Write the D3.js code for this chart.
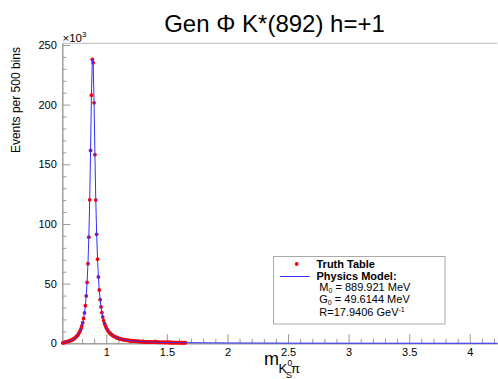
<!DOCTYPE html>
<html>
<head>
<meta charset="utf-8">
<script src="https://cdn.jsdelivr.net/npm/d3@7"></script>
<style>
  html, body { margin: 0; padding: 0; background: #fff; }
  svg { display: block; font-family: "Liberation Sans", Arial, Helvetica, sans-serif; }
</style>
</head>
<body>
<svg id="chart" width="498" height="379"></svg>
<script>
// Histogram binning of the K_S pi invariant mass (GeV): 500 bins
const binLo = 0.637;
const binWidth = 0.00718;
const binCount = 500;

// Truth table contents, events per bin in units of 10^3 (first 142 bins)
const truthValues = [
  0.30, 0.55, 0.75, 0.95, 1.15, 1.35, 1.58, 1.82, 2.08, 2.37,
  2.70, 3.07, 3.48, 3.95, 4.50, 5.13, 5.86, 6.72, 7.75, 8.96,
  10.43, 12.24, 14.48, 17.27, 20.84, 25.45, 31.54, 39.72, 51.0, 66.7,
  88.9, 120.2, 161.6, 207.9, 238.0, 235.1, 201.5, 158.0, 120.0, 91.3,
  70.5, 55.56, 44.67, 36.58, 30.47, 25.75, 22.04, 19.08, 16.68, 14.72,
  13.08, 11.72, 10.56, 9.57, 8.71, 7.97, 7.33, 6.76, 6.26, 5.82,
  5.42, 5.06, 4.74, 4.46, 4.20, 3.96, 3.74, 3.54, 3.36, 3.19,
  3.04, 2.90, 2.77, 2.64, 2.53, 2.43, 2.33, 2.23, 2.15, 2.07,
  1.99, 1.92, 1.85, 1.79, 1.73, 1.67, 1.62, 1.57, 1.52, 1.47,
  1.43, 1.39, 1.35, 1.31, 1.28, 1.24, 1.21, 1.18, 1.15, 1.12,
  1.09, 1.065, 1.04, 1.016, 0.992, 0.970, 0.948, 0.928, 0.908, 0.888,
  0.870, 0.852, 0.835, 0.818, 0.802, 0.787, 0.771, 0.757, 0.743, 0.729,
  0.716, 0.703, 0.691, 0.679, 0.667, 0.656, 0.645, 0.634, 0.624, 0.614,
  0.604, 0.595, 0.585, 0.576, 0.568, 0.559, 0.551, 0.543, 0.535, 0.527,
  0.520, 0.512
];

// Physics model beyond the truth-table range: [mass GeV, events x10^3]
const modelTail = [
  [1.70, 0.48], [2.00, 0.30], [2.50, 0.15], [3.00, 0.09], [3.50, 0.06], [4.227, 0.04]
];

// Axis ticks
const xMajorTicks = [1, 1.5, 2, 2.5, 3, 3.5, 4];
const xMinorTicks = [0.7, 0.8, 0.9, 1.1, 1.2, 1.3, 1.4, 1.6, 1.7, 1.8, 1.9, 2.1, 2.2, 2.3, 2.4,
                     2.6, 2.7, 2.8, 2.9, 3.1, 3.2, 3.3, 3.4, 3.6, 3.7, 3.8, 3.9, 4.1, 4.2];
const yMajorTicks = [0, 50, 100, 150, 200, 250];
const yMinorTicks = [10, 20, 30, 40, 60, 70, 80, 90, 110, 120, 130, 140, 160, 170, 180, 190,
                     210, 220, 230, 240];

// Legend fit results
const fitMass = "889.921";
const fitWidth = "49.6144";
const fitRadius = "17.9406";

const svg = d3.select("#chart");
const frame = { left: 62.3, right: 497.3, top: 43.3, bottom: 343.3 };

const x = d3.scaleLinear()
  .domain([binLo, binLo + binCount * binWidth])
  .range([frame.left, frame.right]);
const y = d3.scaleLinear()
  .domain([0, 251.4])
  .range([frame.bottom, frame.top]);

const truth = truthValues.map((v, i) => ({ m: binLo + (i + 0.5) * binWidth, v }));
const model = truth.concat(modelTail.map(d => ({ m: d[0], v: d[1] })));

// Frame top border
svg.append("line")
  .attr("x1", frame.left).attr("x2", frame.right)
  .attr("y1", frame.top).attr("y2", frame.top)
  .attr("stroke", "#bbb").attr("stroke-width", 1);

const axisColor = "#999";
function styleAxis(g) {
  g.selectAll("path.domain").attr("stroke", axisColor);
  g.selectAll(".tick line").attr("stroke", axisColor);
  g.selectAll(".tick text").attr("fill", "#000").attr("font-size", "11px")
    .attr("font-family", "'Liberation Sans', Arial, Helvetica, sans-serif");
}

// X axis: minor ticks then major ticks with labels
svg.append("g")
  .attr("transform", `translate(0,${frame.bottom})`)
  .call(d3.axisBottom(x).tickValues(xMinorTicks).tickFormat("").tickSizeInner(-4.5).tickSizeOuter(0))
  .call(styleAxis);
svg.append("g")
  .attr("transform", `translate(0,${frame.bottom})`)
  .call(d3.axisBottom(x).tickValues(xMajorTicks).tickFormat(d3.format("~g"))
    .tickSizeInner(-9).tickSizeOuter(0).tickPadding(4.8))
  .call(styleAxis);

// Y axis
svg.append("g")
  .attr("transform", `translate(${frame.left},0)`)
  .call(d3.axisLeft(y).tickValues(yMinorTicks).tickFormat("").tickSizeInner(-4).tickSizeOuter(0))
  .call(styleAxis);
svg.append("g")
  .attr("transform", `translate(${frame.left},0)`)
  .call(d3.axisLeft(y).tickValues(yMajorTicks).tickFormat(d3.format("d"))
    .tickSizeInner(-8).tickSizeOuter(0).tickPadding(5.5))
  .call(styleAxis);

// Exponent label above the y axis
const expo = svg.append("text").attr("x", 62.5).attr("y", 41.5)
  .attr("font-size", "11.5px").attr("fill", "#000");
expo.append("tspan").text("\u00d710");
expo.append("tspan").attr("font-size", "8px").attr("dy", -4.5).text("3");

// Truth table markers
svg.append("g").selectAll("circle")
  .data(truth)
  .join("circle")
  .attr("cx", d => x(d.m))
  .attr("cy", d => y(d.v))
  .attr("r", 1.9)
  .attr("fill", "#ff0000");

// Physics model curve
svg.append("path")
  .datum(model)
  .attr("fill", "none")
  .attr("stroke", "#3030ff")
  .attr("stroke-width", 1)
  .attr("d", d3.line().x(d => x(d.m)).y(d => y(d.v)));

// Title
svg.append("text")
  .attr("x", 274.5).attr("y", 31.5)
  .attr("text-anchor", "middle")
  .attr("font-size", "24px").attr("fill", "#000")
  .text("Gen \u03a6 K*(892) h=+1");

// Y axis title
svg.append("text")
  .attr("transform", "translate(19.5,47) rotate(-90)")
  .attr("text-anchor", "end")
  .attr("font-size", "12px").attr("fill", "#000")
  .text("Events per 500 bins");

// X axis title: m_{K^0_S pi}
const xt = svg.append("g").attr("fill", "#000");
xt.append("text").attr("x", 264).attr("y", 365.3).attr("font-size", "18px").text("m");
xt.append("text").attr("x", 278.6).attr("y", 372.7).attr("font-size", "13px").text("K");
xt.append("text").attr("x", 287.4).attr("y", 366.3).attr("font-size", "8.5px").text("0");
xt.append("text").attr("x", 286.0).attr("y", 378.3).attr("font-size", "9px").text("S");
xt.append("text").attr("x", 291.0).attr("y", 372.7).attr("font-size", "13px").text("\u03c0");

// Legend
const lg = svg.append("g");
lg.append("rect")
  .attr("x", 273.5).attr("y", 256.5).attr("width", 171.5).attr("height", 67.5)
  .attr("fill", "#fff").attr("stroke", "#aaa").attr("stroke-width", 1);
lg.append("circle").attr("cx", 296.7).attr("cy", 264).attr("r", 1.9).attr("fill", "#ff0000");
lg.append("line").attr("x1", 280).attr("x2", 309.5).attr("y1", 276.5).attr("y2", 276.5)
  .attr("stroke", "#3030ff").attr("stroke-width", 1);
lg.append("text").attr("x", 316.5).attr("y", 267.5).attr("font-size", "11px")
  .attr("font-weight", "bold").text("Truth Table");
lg.append("text").attr("x", 316.5).attr("y", 279.5).attr("font-size", "11px")
  .attr("font-weight", "bold").text("Physics Model:");

const l1 = lg.append("text").attr("x", 319.3).attr("y", 291.4).attr("font-size", "11px");
l1.append("tspan").text("M");
l1.append("tspan").attr("font-size", "7px").attr("dy", 1.5).text("0");
l1.append("tspan").attr("dy", -1.5).text(` = ${fitMass} MeV`);

const l2 = lg.append("text").attr("x", 319.3).attr("y", 303.4).attr("font-size", "11px");
l2.append("tspan").text("G");
l2.append("tspan").attr("font-size", "7px").attr("dy", 1.5).text("0");
l2.append("tspan").attr("dy", -1.5).text(` = ${fitWidth} MeV`);

const l3 = lg.append("text").attr("x", 319.3).attr("y", 315.6).attr("font-size", "11px");
l3.append("tspan").text(`R=${fitRadius} GeV`);
l3.append("tspan").attr("font-size", "7px").attr("dy", -4).text("-1");
</script>
</body>
</html>
